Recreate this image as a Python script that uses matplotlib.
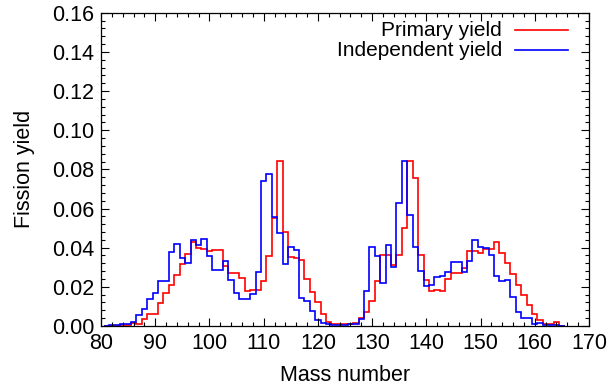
import numpy as np
import matplotlib
matplotlib.use('Agg')
import matplotlib.pyplot as plt

# mass numbers (bin centres) and the two yield series
mass = np.arange(81, 166)

primary = [
    0.0, 0.0, 0.0002, 0.0003, 0.0005, 0.0015, 0.0008, 0.0035, 0.0060, 0.0063,   # 81-90
    0.0118, 0.0168, 0.0208, 0.0262, 0.0318, 0.0365, 0.0428, 0.0400, 0.0395, 0.0383,  # 91-100
    0.0390, 0.0388, 0.0305, 0.0269, 0.0269, 0.0244, 0.0180, 0.0182, 0.0184, 0.0232,  # 101-110
    0.0355, 0.0550, 0.0844, 0.0478, 0.0352, 0.0348, 0.0335, 0.0240, 0.0175, 0.0122,  # 111-120
    0.0062, 0.0020, 0.0012, 0.0009, 0.0012, 0.0010, 0.0015, 0.0040, 0.0072, 0.0127,  # 121-130
    0.0227, 0.0360, 0.0362, 0.0310, 0.0362, 0.0500, 0.0844, 0.0755, 0.0360, 0.0235,  # 131-140
    0.0180, 0.0182, 0.0180, 0.0240, 0.0268, 0.0270, 0.0295, 0.0385, 0.0385, 0.0375,  # 141-150
    0.0392, 0.0392, 0.0430, 0.0372, 0.0320, 0.0264, 0.0210, 0.0158, 0.0107, 0.0060,  # 151-160
    0.0030, 0.0012, 0.0010, 0.0018, 0.0,                                             # 161-165
]

independent = [
    0.0, 0.0003, 0.0005, 0.0008, 0.0010, 0.0022, 0.0058, 0.0087, 0.0138, 0.0167,     # 81-90
    0.0232, 0.0232, 0.0377, 0.0419, 0.0346, 0.0320, 0.0440, 0.0414, 0.0443, 0.0358,  # 91-100
    0.0288, 0.0288, 0.0334, 0.0234, 0.0166, 0.0139, 0.0139, 0.0164, 0.0278, 0.0738,  # 101-110
    0.0774, 0.0559, 0.0477, 0.0317, 0.0405, 0.0388, 0.0145, 0.0125, 0.0075, 0.0030,  # 111-120
    0.0017, 0.0008, 0.0006, 0.0006, 0.0006, 0.0008, 0.0008, 0.0035, 0.0180, 0.0405,  # 121-130
    0.0358, 0.0220, 0.0414, 0.0302, 0.0627, 0.0844, 0.0567, 0.0403, 0.0282, 0.0205,  # 131-140
    0.0210, 0.0250, 0.0256, 0.0277, 0.0329, 0.0325, 0.0277, 0.0330, 0.0438, 0.0404,  # 141-150
    0.0400, 0.0363, 0.0256, 0.0230, 0.0235, 0.0147, 0.0073, 0.0039, 0.0039, 0.0010,  # 151-160
    0.0013, 0.0003, 0.0003, 0.0003, 0.0,                                             # 161-165
]

labels = ['Primary yield', 'Independent yield']
colors = ['#ff0000', '#0000ff']

plt.rcParams['font.family'] = ['Liberation Sans', 'DejaVu Sans']
fs = 15.5

fig = plt.figure(figsize=(6.09, 3.88), dpi=100)
ax = fig.add_axes([0.166, 0.160, 0.801, 0.807])

edges = np.append(mass - 0.5, mass[-1] + 0.5)
for vals, col in zip([primary, independent], colors):
    ax.stairs(vals, edges, color=col, linewidth=1.2, baseline=0)

ax.set_xlim(80, 170)
ax.set_ylim(0, 0.16)
ax.set_xticks(np.arange(80, 171, 10))
ax.set_xticks(np.arange(80, 171, 2), minor=True)
ax.set_yticks(np.arange(0, 0.161, 0.02))
ax.set_yticks(np.arange(0, 0.161, 0.004), minor=True)
ax.yaxis.set_major_formatter(matplotlib.ticker.FormatStrFormatter('%.2f'))

ax.tick_params(which='both', direction='in', top=True, right=True, width=0.8, labelsize=fs)
ax.tick_params(which='major', length=6, pad=5)
ax.tick_params(which='minor', length=3)
for s in ax.spines.values():
    s.set_linewidth(0.9)

ax.set_xlabel('Mass number', fontsize=fs, labelpad=8)
ax.set_ylabel('Fission yield', fontsize=fs, labelpad=12)

# gnuplot-style key: right-aligned text followed by line sample
for i, (lab, col) in enumerate(zip(labels, colors)):
    yk = 0.945 - i * 0.064
    ax.text(0.822, yk, lab, transform=ax.transAxes, ha='right', va='center', fontsize=15)
    ax.plot([0.848, 0.957], [yk, yk], transform=ax.transAxes, color=col, linewidth=1.2)

plt.savefig('out.png', dpi=100)
